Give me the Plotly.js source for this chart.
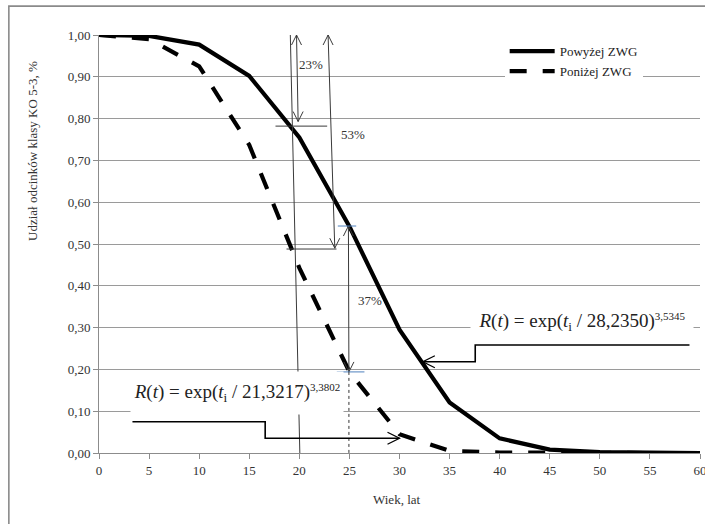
<!DOCTYPE html>
<html>
<head>
<meta charset="utf-8">
<script src="https://cdn.plot.ly/plotly-3.0.1.min.js"></script>
<style>
  html, body { margin: 0; padding: 0; background: #ffffff; }
  #chart { width: 705px; height: 524px; }
</style>
</head>
<body>
<div id="chart"></div>
<script>
// ---- data ----
const ageYears = [0, 5, 10, 15, 20, 25, 30, 35, 40, 45, 50, 55, 60];
const powyzejZWG = [1.000, 0.998, 0.977, 0.902, 0.755, 0.542, 0.295, 0.121, 0.035, 0.008, 0.002, 0.001, 0.000];
const ponizejZWG = [1.000, 0.990, 0.925, 0.737, 0.443, 0.194, 0.045, 0.005, 0.001, 0.000, 0.000, 0.000, 0.000];
const seriesNames = ['Powyżej ZWG', 'Poniżej ZWG'];

const xTickVals = [0, 5, 10, 15, 20, 25, 30, 35, 40, 45, 50, 55, 60];
const xTickText = ['0', '5', '10', '15', '20', '25', '30', '35', '40', '45', '50', '55', '60'];
const yTickVals = [0, 0.1, 0.2, 0.3, 0.4, 0.5, 0.6, 0.7, 0.8, 0.9, 1.0];
const yTickText = ['0,00', '0,10', '0,20', '0,30', '0,40', '0,50', '0,60', '0,70', '0,80', '0,90', '1,00'];

const xTitle = 'Wiek, lat';
const yTitle = 'Udział odcinków klasy KO 5-3, %';
const formulaBelow = '<i>R</i>(<i>t</i>) = exp(<i>t</i><sub>i</sub> / 21,3217)<sup><span style="font-size:11px">3,3802</span></sup>';
const formulaAbove = '<i>R</i>(<i>t</i>) = exp(<i>t</i><sub>i</sub> / 28,2350)<sup><span style="font-size:11px">3,5345</span></sup>';
const gapLabels = ['23%', '53%', '37%'];

// ---- styling ----
const FONT = '"Liberation Serif", "Times New Roman", serif';
const ARROW = '#3a3a3a';
const BLUE = '#4f81bd';

function seg(x0, y0, x1, y1, color, width, dash) {
  return {type: 'line', xref: 'x', yref: 'y', x0: x0, y0: y0, x1: x1, y1: y1,
          line: {color: color || ARROW, width: width || 1, dash: dash || 'solid'}, layer: 'above'};
}
function vHead(x, y, dir, color, width) {
  const p = {
    down: 'M -5 10 L 0 0 L 5 10',
    up: 'M -5 -10 L 0 0 L 5 -10',
    right: 'M -12 6 L 0 0 L -12 -6',
    left: 'M 12 6 L 0 0 L 12 -6'
  };
  return {type: 'path', xref: 'x', yref: 'y', xsizemode: 'pixel', ysizemode: 'pixel',
          xanchor: x, yanchor: y, path: p[dir], line: {color: color || ARROW, width: width || 1}, layer: 'above'};
}
function poly(xs, ys, color, width) {
  let d = 'M ' + xs[0] + ',' + ys[0];
  for (let i = 1; i < xs.length; i++) d += ' L ' + xs[i] + ',' + ys[i];
  return {type: 'path', xref: 'x', yref: 'y', path: d, line: {color: color || '#000', width: width || 1.5}, layer: 'above'};
}

const traces = [
  {x: ageYears, y: powyzejZWG, name: seriesNames[0], type: 'scatter', mode: 'lines',
   line: {color: '#000000', width: 4.2}},
  {x: ageYears, y: ponizejZWG, name: seriesNames[1], type: 'scatter', mode: 'lines',
   line: {color: '#000000', width: 4.2, dash: '17px,16px'}}
];

const shapes = [
  // outer chart frame
  {type: 'rect', xref: 'paper', yref: 'paper', x0: -0.150, y0: -0.175, x1: 1.012, y1: 1.069,
   line: {color: '#8a8a8a', width: 1.6}, fillcolor: 'rgba(0,0,0,0)', layer: 'below'},
  // long guide line
  seg(19.1, 1.0, 20.05, 0.0),
  // 23% double arrow
  seg(19.72, 1.0, 19.88, 0.793),
  vHead(19.72, 1.0, 'up'), vHead(19.88, 0.793, 'down'),
  seg(17.62, 0.782, 22.78, 0.782),
  // 53% double arrow
  seg(22.87, 1.0, 23.54, 0.49),
  vHead(22.87, 1.0, 'up'), vHead(23.54, 0.49, 'down'),
  seg(18.72, 0.488, 23.71, 0.488),
  // 37% double arrow at age 25
  seg(24.9, 0.543, 24.95, 0.194),
  vHead(24.9, 0.543, 'up'), vHead(24.95, 0.194, 'down'),
  seg(23.84, 0.543, 25.68, 0.543, BLUE, 1),
  seg(23.74, 0.194, 26.5, 0.194, BLUE, 1),
  seg(24.95, 0.194, 24.95, 0.0, '#333', 1, 'dot'),
  // callout lines for formulas
  poly([3.34, 16.59, 16.59, 30.0], [0.0749, 0.0749, 0.0352, 0.0352], '#000', 1.6),
  vHead(30.0, 0.0352, 'right', '#000', 1.3),
  poly([58.95, 37.56, 37.56, 32.33], [0.2584, 0.2584, 0.2184, 0.2184], '#000', 1.6),
  vHead(32.33, 0.2184, 'left', '#000', 1.3)
];

const annotations = [
  {x: -0.1098, y: 0.7225, xref: 'paper', yref: 'paper', text: yTitle, textangle: -90, showarrow: false,
   xanchor: 'center', yanchor: 'middle', font: {family: FONT, size: 13, color: '#333'}},
  {x: 0.4958, y: -0.1124, xref: 'paper', yref: 'paper', text: xTitle, showarrow: false,
   xanchor: 'center', yanchor: 'middle', font: {family: FONT, size: 13, color: '#333'}},
  {x: 21.15, y: 0.93, xref: 'x', yref: 'y', text: gapLabels[0], showarrow: false,
   font: {family: FONT, size: 13, color: '#333'}},
  {x: 25.34, y: 0.761, xref: 'x', yref: 'y', text: gapLabels[1], showarrow: false,
   font: {family: FONT, size: 13, color: '#333'}},
  {x: 27.05, y: 0.366, xref: 'x', yref: 'y', text: gapLabels[2], showarrow: false,
   font: {family: FONT, size: 13, color: '#333'}},
  {x: 13.8, y: 0.1435, xref: 'x', yref: 'y', text: formulaBelow, showarrow: false,
   bgcolor: '#ffffff', width: 210, height: 40, font: {family: FONT, size: 19, color: '#222'}},
  {x: 48.22, y: 0.3134, xref: 'x', yref: 'y', text: formulaAbove, showarrow: false,
   bgcolor: '#ffffff', width: 220, height: 40, font: {family: FONT, size: 19, color: '#222'}}
];

const layout = {
  width: 705, height: 524,
  margin: {l: 99, r: 5, t: 35, b: 71, pad: 0},
  paper_bgcolor: '#ffffff', plot_bgcolor: '#ffffff',
  showlegend: true,
  legend: {x: 0.675, y: 0.997, xanchor: 'left', yanchor: 'top', bgcolor: '#ffffff',
           borderwidth: 0, itemwidth: 45, font: {family: FONT, size: 13, color: '#222'},
           tracegroupgap: 0},
  xaxis: {range: [0, 60], tickvals: xTickVals, ticktext: xTickText,
          showgrid: false, zeroline: false, showline: true, linecolor: '#8c8c8c', linewidth: 1,
          ticks: 'outside', ticklen: 5, tickcolor: '#8c8c8c', ticklabeloverflow: 'allow',
          tickfont: {family: FONT, size: 13, color: '#333'}, fixedrange: true},
  yaxis: {range: [0, 1.0], tickvals: yTickVals, ticktext: yTickText,
          showgrid: true, gridcolor: '#9a9a9a', gridwidth: 1, zeroline: false,
          showline: true, linecolor: '#8c8c8c', linewidth: 1,
          ticks: 'outside', ticklen: 5, tickcolor: '#8c8c8c', ticklabeloverflow: 'allow',
          tickfont: {family: FONT, size: 13, color: '#333'}, fixedrange: true},
  shapes: shapes,
  annotations: annotations
};

Plotly.newPlot('chart', traces, layout, {displayModeBar: false, staticPlot: true});
</script>
</body>
</html>
